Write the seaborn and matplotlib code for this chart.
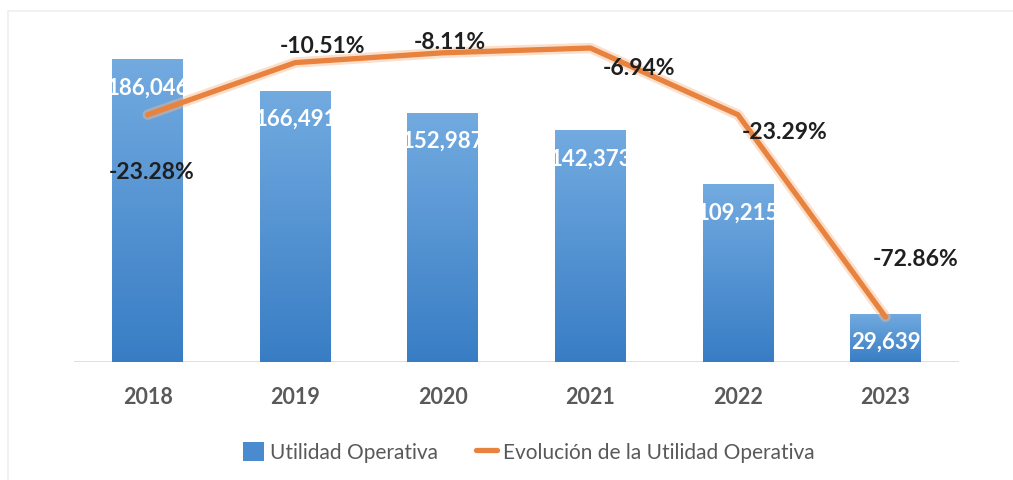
import numpy as np
import pandas as pd
import matplotlib
matplotlib.use("Agg")
import matplotlib.pyplot as plt
from matplotlib.patches import Patch
from matplotlib.lines import Line2D
import seaborn as sns

# Data
years = ["2018", "2019", "2020", "2021", "2022", "2023"]
utilidad = [186046, 166491, 152987, 142373, 109215, 29639]
evolucion = [-23.28, -10.51, -8.11, -6.94, -23.29, -72.86]

# Label placement for the percentage annotations (pixels, x right / y down)
label_offsets = [(4, 57), (27, -17), (7, -11), (49, 19), (47, 17), (30, -58)]

sns.set_theme(style="white")
plt.rcParams["font.family"] = ["Lato", "DejaVu Sans"]

df = pd.DataFrame({"Año": years, "Utilidad Operativa": utilidad})

fig = plt.figure(figsize=(10.13, 4.81), dpi=100)
ax = fig.add_axes([0.073, 0.2453, 0.874, 0.6923])

sns.barplot(data=df, x="Año", y="Utilidad Operativa", color="#4F8FD3",
            width=0.48, ax=ax, saturation=1)

ax.set_ylim(0, 204460)
ax.set_xlim(-0.5, 5.5)

# Vertical gradient fill on each bar
top_c = np.array([0.45, 0.67, 0.88])
bot_c = np.array([0.22, 0.49, 0.77])
grad = np.linspace(0, 1, 256)[:, None]
img = top_c[None, None, :] * (1 - grad[..., None]) + bot_c[None, None, :] * grad[..., None]
for p in ax.patches:
    x0, y0 = p.get_x(), p.get_y()
    w, h = p.get_width(), p.get_height()
    im = ax.imshow(img, extent=[x0, x0 + w, y0, y0 + h], aspect="auto",
                   origin="upper", zorder=2)
    im.set_clip_path(p)
ax.set_xlim(-0.5, 5.5)
ax.set_ylim(0, 204460)

# Values inside the bars
for i, v in enumerate(utilidad):
    ax.annotate(f"{v:,}", xy=(i, v), xytext=(0, -20), textcoords="offset points",
                ha="center", va="center", color="white", fontsize=16,
                fontweight="bold", zorder=4)

ax.axhline(0, color="#d9d9d9", lw=1.2, zorder=1)
sns.despine(ax=ax, left=True, bottom=True)
ax.set_yticks([])
ax.set_xlabel("")
ax.set_ylabel("")
ax.tick_params(axis="x", length=0, pad=17)
for t in ax.get_xticklabels():
    t.set_fontsize(15.5)
    t.set_fontweight("bold")
    t.set_color("#595959")

# Secondary axis: evolution line
ax2 = ax.twinx()
ax2.plot(range(len(years)), evolucion, color="#F7B98A", lw=7.5, alpha=0.45,
         solid_capstyle="round", zorder=2)
sns.lineplot(x=list(range(len(years))), y=evolucion, ax=ax2, color="#E8823F",
             lw=3.8, sort=False, zorder=3)
ax2.set_ylim(-83.9, -2.28)
ax2.set_yticks([])
ax2.set_ylabel("")
sns.despine(ax=ax2, left=True, bottom=True, right=True)

for i, (v, (dx, dy)) in enumerate(zip(evolucion, label_offsets)):
    ax2.annotate(f"{v:.2f}%", xy=(i, v), xytext=(dx * 0.72, -dy * 0.72),
                 textcoords="offset points", ha="center", va="center",
                 fontsize=16.5, fontweight="bold", color="#1f1f1f", zorder=5)

# Legend
handles = [Patch(facecolor="#4A8BD0", edgecolor="none"),
           Line2D([0], [0], color="#E8823F", lw=3.8)]
fig.legend(handles, ["Utilidad Operativa", "Evolución de la Utilidad Operativa"],
           loc="center", bbox_to_anchor=(0.522, 0.058), ncol=2, frameon=False,
           fontsize=15, handlelength=1.0, handleheight=1.0, handletextpad=0.3,
           columnspacing=1.8, labelcolor="#595959")

# Faint frame lines
fig.add_artist(Line2D([8 / 1013, 1], [1 - 12 / 481] * 2, color="#efefef", lw=1.2))
fig.add_artist(Line2D([8 / 1013] * 2, [0, 1 - 12 / 481], color="#efefef", lw=1.2))

fig.savefig("out.png", dpi=100, facecolor="white")
